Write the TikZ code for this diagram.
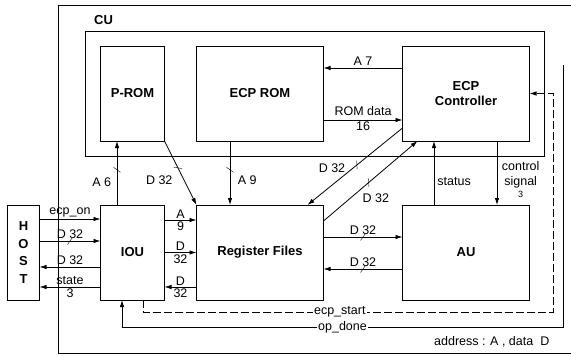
\documentclass[tikz,border=0pt]{standalone}
\usepackage{fontspec}
\setmainfont{Liberation Sans}
\usetikzlibrary{arrows.meta, positioning, calc, fit, decorations.markings}

\begin{document}
\begin{tikzpicture}[
      x=1pt, y=1pt,
      node distance=32pt,
      box/.style={rectangle, draw=black, line width=0.9pt, outer sep=0pt,
                  minimum height=95pt, align=center,
                  font=\bfseries\fontsize{13}{15}\selectfont},
      narrow/.style={box, minimum width=64pt},
      wide/.style={box, minimum width=127pt},
      frame/.style={draw=black, line width=1pt},
      lab/.style={font=\fontsize{12.5}{15}\selectfont, inner sep=1.5pt},
      arr/.style={-{Latex[length=7pt, width=4.5pt]}, line width=0.8pt, draw=black},
      busmark/.style={postaction={decorate}, decoration={markings,
                  mark=at position #1 with {\draw[-, line width=0.4pt] (-2.5pt,-3.5pt) -- (2.5pt,3.5pt);}}}
    ]
    \useasboundingbox (0,0) rectangle (571,-356);

    % lower row
    \node[narrow] (iou) at (132.5,-252.5) {IOU};
    \node[wide, right=of iou] (rf) {Register Files};
    \node[wide, right=79pt of rf] (au) {AU};
    \node[box, minimum width=32pt, left=61pt of iou,
          font=\bfseries\fontsize{13}{17.5}\selectfont] (host) {H\\O\\S\\T};

    % upper row (inside CU)
    \node[narrow, above=64pt of iou] (prom) {P-ROM};
    \node[wide, above=64pt of rf] (ecprom) {ECP ROM};
    \node[wide, above=64pt of au] (ctrl) {ECP\\Controller};

    \node[frame, fit=(prom)(ctrl), inner sep=15pt] (cu) {};
    \node[font=\bfseries\fontsize{13}{15}\selectfont, anchor=south west, inner sep=0pt]
          (cutitle) at ([shift={(9pt,6pt)}]cu.north west) {CU};
    \draw[frame] (58,-5) rectangle (576,-353);
    \node[lab, anchor=east] (legend) at (551,-342) {address : A , data \ D};

    % host <-> iou
    \draw[arr] ([yshift=33.5pt]host.east) -- ([yshift=33.5pt]iou.west)
          node[lab, above, midway] (hon) {ecp\_on};
    \draw[arr, busmark=0.5] ([yshift=11.5pt]host.east) -- ([yshift=11.5pt]iou.west)
          node[lab, above, midway] (hdi) {D 32};
    \draw[arr] ([yshift=-14.5pt]iou.west) -- ([yshift=-14.5pt]host.east)
          node[lab, above, midway] (hdo) {D 32};
    \draw[arr] ([yshift=-34.5pt]iou.west) -- ([yshift=-34.5pt]host.east)
          node[lab, above, midway] (hst) {state}
          node[lab, below, midway] (hs3) {3};

    % iou <-> register files
    \draw[arr] ([yshift=32.5pt]iou.east) -- ([yshift=32.5pt]rf.west)
          node[lab, above, midway] (ra) {A}
          node[lab, below, midway] (r9) {9};
    \draw[arr] (iou.east) -- (rf.west)
          node[lab, above, midway] (rd) {D}
          node[lab, below, midway] (r32) {32};
    \draw[arr] ([yshift=-34.5pt]rf.west) -- ([yshift=-34.5pt]iou.west -| iou.east)
          node[lab, above, midway] (wd) {D}
          node[lab, below, midway] (w32) {32};

    % into and out of CU
    \draw[arr, busmark=0.55] ([xshift=-15.5pt]iou.north) -- ([xshift=-15.5pt]prom.south)
          node[lab, left=4pt, pos=0.36] (pa) {A 6};
    \draw[arr, busmark=0.42] (prom.south east) -- (rf.north west)
          node[lab, left=10pt, pos=0.62] (pd) {D 32};
    \draw[arr, busmark=0.45] ([xshift=-30pt]ecprom.south) -- ([xshift=-30pt]rf.north)
          node[lab, right=6pt, pos=0.62] (ea) {A 9};
    \draw[arr, busmark=0.48] ([yshift=13pt]ctrl.south west) -- ([xshift=-16pt]rf.north east)
          node[lab, left=6pt, pos=0.52] (cd) {D 32};
    \draw[arr, busmark=0.48] ([yshift=-16pt]rf.north east) -- ([xshift=15pt]ctrl.south west)
          node[lab, right=10pt, pos=0.29] (fd) {D 32};

    % inside CU
    \draw[arr] ([yshift=25.5pt]ctrl.west) -- ([yshift=25.5pt]ecprom.east)
          node[lab, above=1pt, midway] (ca) {A 7};
    \draw[arr] ([yshift=-26.5pt]ecprom.east) -- ([yshift=-26.5pt]ctrl.west)
          node[lab, above=2pt, midway] (md) {ROM data}
          node[lab, below, midway] (m16) {16};

    % controller <-> AU
    \draw[arr] ([xshift=-32pt]au.north) -- ([xshift=-32pt]ctrl.south)
          node[lab, right=1.5pt, pos=0.36] (st) {status};
    \draw[arr] ([xshift=31pt]ctrl.south) -- ([xshift=31pt]au.north)
          node[lab, right=3pt, pos=0.6, align=center] (cs)
          {control\\signal\\[-3pt]{\fontsize{9}{10}\selectfont 3}};

    % register files <-> AU
    \draw[arr, busmark=0.5] ([yshift=15.5pt]rf.east) -- ([yshift=15.5pt]au.west)
          node[lab, above, midway] (ud) {D 32};
    \draw[arr, busmark=0.5] ([yshift=-16.5pt]au.west) -- ([yshift=-16.5pt]rf.east)
          node[lab, above, midway] (vd) {D 32};

    % handshake lines
    \coordinate (sx) at (553,-312);
    \coordinate (dn) at (563,-65);
    \coordinate (db) at (563,-327);
    \draw[arr, dash pattern=on 8pt off 3pt] ([xshift=10.5pt]iou.south) |- (sx)
          node[lab, fill=white, pos=0.74] (es) {ecp\_start} |- (ctrl.east);
    \draw[arr] (dn) -- (db) -| node[lab, fill=white, pos=0.25] (od) {op\_done}
          ([xshift=-10.5pt]iou.south);
  \end{tikzpicture}
\end{document}
